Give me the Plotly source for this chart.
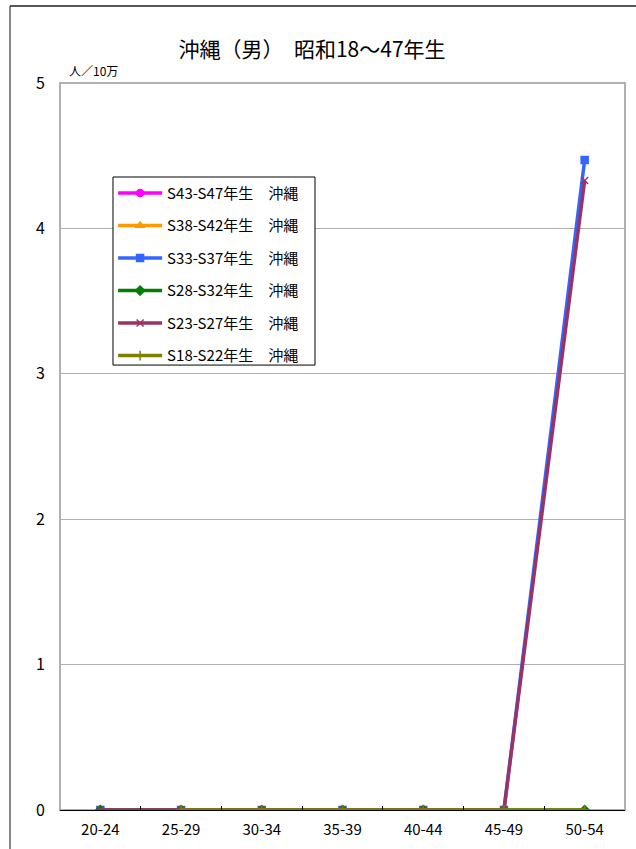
import plotly.graph_objects as go

ages = ['20-24', '25-29', '30-34', '35-39', '40-44', '45-49', '50-54']

names = ['S43-S47年生　沖縄', 'S38-S42年生　沖縄', 'S33-S37年生　沖縄',
         'S28-S32年生　沖縄', 'S23-S27年生　沖縄', 'S18-S22年生　沖縄']
s43_47 = [0, 0, 0, 0, 0, None, None]
s38_42 = [0, 0, 0, 0, 0, 0, None]
s33_37 = [0, 0, 0, 0, 0, 0, 4.47]
s28_32 = [0, 0, 0, 0, 0, 0, 0]
s23_27 = [0, 0, 0, 0, 0, 0, 4.33]
s18_22 = [None, 0, 0, 0, 0, 0, 0]
series = [s43_47, s38_42, s33_37, s28_32, s23_27, s18_22]

colors = ['#FF00FF', '#FF9900', '#3366FF', '#008000', '#993366', '#808000']
symbols = ['circle', 'triangle-up', 'square', 'diamond', 'x-thin-open', 'cross-thin-open']

FONT = "Noto Sans CJK JP"

fig = go.Figure()
for i in range(len(names)):
    fig.add_trace(go.Scatter(x=ages, y=series[i], name=names[i], mode='lines+markers',
                             legendgroup=str(i),
                             line=dict(color=colors[i], width=3.5),
                             marker=dict(symbol=symbols[i], size=7, color=colors[i],
                                         line=dict(color=colors[i], width=1.5))))

fig.update_layout(width=636, height=849, plot_bgcolor='white', paper_bgcolor='white',
                  font=dict(family=FONT, size=13, color='black'),
                  margin=dict(l=60, r=11, t=83, b=39),
                  title=dict(text='沖縄（男）　昭和18～47年生', x=0.446, xanchor='center',
                             xref='paper', y=0.941, yanchor='middle', font=dict(size=21)),
                  legend=dict(x=0.094, y=0.871, xanchor='left', yanchor='top',
                              borderwidth=0, bgcolor='rgba(0,0,0,0)',
                              font=dict(size=15), tracegroupgap=10, itemwidth=44),
                  showlegend=True)

fig.update_xaxes(type='category', range=[-0.5, 6.5], showgrid=False, showline=True,
                 linecolor='black', linewidth=1,
                 ticks='inside', tickson='boundaries', ticklen=4, tickcolor='black',
                 ticklabelstandoff=6, tickfont=dict(size=15), fixedrange=True)
fig.update_yaxes(range=[0, 5], dtick=1, showgrid=True, gridcolor='#b0b0b0', gridwidth=1,
                 zeroline=False, showline=False, ticks='', ticklabelstandoff=14,
                 tickfont=dict(size=16))

# plot area border
fig.add_shape(type='rect', xref='paper', yref='paper', x0=0, x1=1, y0=0, y1=1,
              line=dict(color='#b0b0b0', width=2), layer='below')
# legend box
fig.add_shape(type='rect', xref='paper', yref='paper', x0=0.0938, x1=0.4513, y0=0.612, y1=0.8707,
              line=dict(color='black', width=1), fillcolor='white', layer='above')
# outer frame
fig.add_shape(type='line', xref='paper', yref='paper', x0=-0.0885, x1=-0.0885, y0=-0.06, y1=1.106,
              line=dict(color='#888888', width=2))
fig.add_shape(type='line', xref='paper', yref='paper', x0=-0.0885, x1=1.03, y0=1.106, y1=1.106,
              line=dict(color='#222222', width=1.5))

fig.add_annotation(text='人／10万', xref='paper', yref='paper', x=0.012, y=1.0, xanchor='left',
                   yanchor='bottom', showarrow=False, font=dict(size=12), yshift=2)

fig.write_html("out.html", config={'displayModeBar': False},
               post_script="document.body.style.margin='0px';")
